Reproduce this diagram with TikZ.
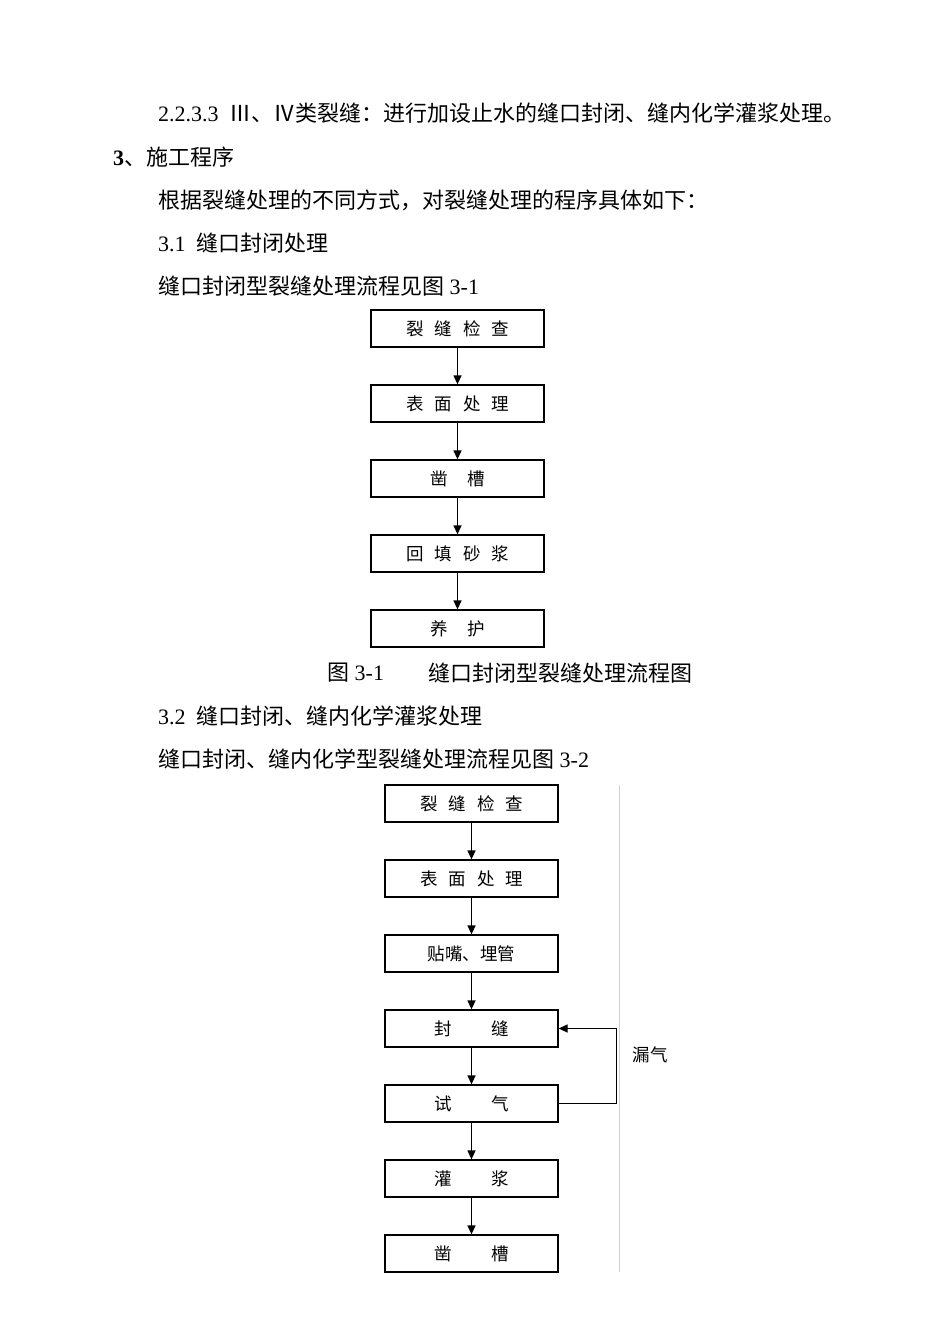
\documentclass[tikz,border=0pt]{standalone}
\usepackage{fontspec}
\setmainfont{Liberation Serif}
\newfontfamily\cjk{Noto Sans CJK SC}
\usetikzlibrary{arrows.meta}
\begin{document}
\begin{tikzpicture}[x=1pt,y=-1pt,
  stepbox/.style={draw, line width=1.3pt, minimum width=173pt, minimum height=37pt, inner sep=0pt,
    font=\cjk\fontsize{17.5}{17.5}\selectfont},
  flow/.style={-{Triangle[length=9pt,width=8pt]}, line width=1.3pt},
  body/.style={anchor=west, inner sep=0pt, font=\fontsize{22}{22}\selectfont},
  side/.style={inner sep=0pt, font=\cjk\fontsize{17.5}{17.5}\selectfont}]
\useasboundingbox[fill=white] (0,0) rectangle (950,1344);

% body text
\node[body] (l1) at (158,113) {2.2.3.3\ \ {\cjk Ⅲ、Ⅳ类裂缝：进行加设止水的缝口封闭、缝内化学灌浆处理。}};
\node[body] (l2) at (113,157) {\textbf{3}{\cjk 、施工程序}};
\node[body] (l3) at (158,200) {\cjk 根据裂缝处理的不同方式，对裂缝处理的程序具体如下：};
\node[body] (l4) at (158,243) {3.1\ \ {\cjk 缝口封闭处理}};
\node[body] (l5) at (158,286) {{\cjk 缝口封闭型裂缝处理流程见图} 3-1};

% chart 1
\node[stepbox] (a1) at (457.5,328.5) {裂\hspace{11pt}缝\hspace{11pt}检\hspace{11pt}查};
\node[stepbox] (a2) at (457.5,403.5) {表\hspace{11pt}面\hspace{11pt}处\hspace{11pt}理};
\node[stepbox] (a3) at (457.5,478.5) {凿\hspace{20pt}槽};
\node[stepbox] (a4) at (457.5,553.5) {回\hspace{11pt}填\hspace{11pt}砂\hspace{11pt}浆};
\node[stepbox] (a5) at (457.5,628.5) {养\hspace{20pt}护};
\draw[flow] (a1) -- (a2);
\draw[flow] (a2) -- (a3);
\draw[flow] (a3) -- (a4);
\draw[flow] (a4) -- (a5);

\node[body] (c1) at (327,673) {{\cjk 图} 3-1};
\node[body] (c2) at (428,673) {\cjk 缝口封闭型裂缝处理流程图};

\node[body] (l6) at (158,716) {3.2\ \ {\cjk 缝口封闭、缝内化学灌浆处理}};
\node[body] (l7) at (158,759) {{\cjk 缝口封闭、缝内化学型裂缝处理流程见图} 3-2};

% chart 2
\draw[gray!35, line width=1pt] (619,785) -- (619,1272);
\node[stepbox] (b1) at (471.5,803.5) {裂\hspace{11pt}缝\hspace{11pt}检\hspace{11pt}查};
\node[stepbox] (b2) at (471.5,878.5) {表\hspace{11pt}面\hspace{11pt}处\hspace{11pt}理};
\node[stepbox] (b3) at (471.5,953.5) {贴嘴、埋管};
\node[stepbox] (b4) at (471.5,1028.5) {封\hspace{40pt}缝};
\node[stepbox] (b5) at (471.5,1103.5) {试\hspace{40pt}气};
\node[stepbox] (b6) at (471.5,1178.5) {灌\hspace{40pt}浆};
\node[stepbox] (b7) at (471.5,1253.5) {凿\hspace{40pt}槽};
\draw[flow] (b1) -- (b2);
\draw[flow] (b2) -- (b3);
\draw[flow] (b3) -- (b4);
\draw[flow] (b4) -- (b5);
\draw[flow] (b5) -- (b6);
\draw[flow] (b6) -- (b7);
\draw[flow] (b5.east) -- ++(58,0) |- (b4.east);
\node[side] (lq) at (650,1055) {漏气};
\end{tikzpicture}
\end{document}
